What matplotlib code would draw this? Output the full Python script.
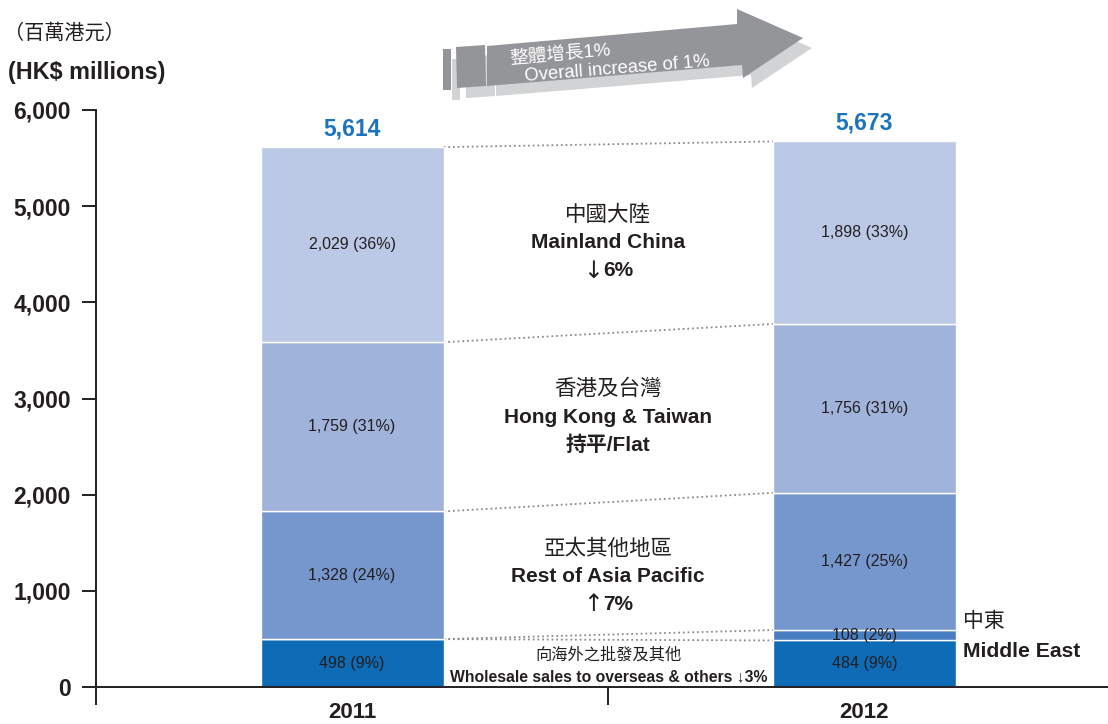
import matplotlib
matplotlib.use("Agg")
import matplotlib.pyplot as plt
from matplotlib.patches import Polygon
from matplotlib.font_manager import FontProperties
import numpy as np

plt.rcParams['font.family'] = ['Liberation Sans', 'Noto Sans CJK TC', 'DejaVu Sans']

# ---- data (HK$ millions) ----
years = ["2011", "2012"]
segments_zh = ["向海外之批發及其他", "中東", "亞太其他地區", "香港及台灣", "中國大陸"]
segments_en = ["Wholesale sales to overseas & others", "Middle East",
               "Rest of Asia Pacific", "Hong Kong & Taiwan", "Mainland China"]
wholesale = [498, 484]
middle_east = [0, 108]
rest_asia = [1328, 1427]
hk_taiwan = [1759, 1756]
mainland = [2029, 1898]
totals = [5614, 5673]
change_arrows = ["↓", None, "↑", "", "↓"]
change_texts = ["3%", None, "7%", "持平/Flat", "6%"]
overall_zh = "整體增長1%"
overall_en = "Overall increase of 1%"

series = [wholesale, middle_east, rest_asia, hk_taiwan, mainland]
colors = ["#0e6bb5", "#4a7ec2", "#7697cd", "#a0b3db", "#bcc9e6"]
ink = "#231f20"
blue_txt = "#1b74bd"

W, H = 1108, 724
fig = plt.figure(figsize=(W / 100, H / 100), dpi=100)
ax = fig.add_axes([96 / W, 1 - 687 / H, 1 - 96 / W, (687 - 110) / H])
renderer = fig.canvas.get_renderer()


def text_width_pt(s, **font):
    prop = FontProperties(**font)
    w, _, _ = renderer.get_text_width_height_descent(s, prop, ismath=False)
    return w * 72 / fig.dpi


x = np.arange(len(years))
bw = 0.357
bottom = np.zeros(len(years))
tops = []
for vals, col in zip(series, colors):
    vals = np.array(vals, dtype=float)
    ax.bar(x, vals, bw, bottom=bottom, color=col, edgecolor="white",
           linewidth=1.0, zorder=2)
    for i, v in enumerate(vals):
        if v > 0:
            pct = round(v / totals[i] * 100)
            ax.text(x[i], bottom[i] + v / 2, f"{int(v):,} ({pct}%)",
                    ha="center", va="center", fontsize=11.5, color=ink, zorder=3)
    bottom = bottom + vals
    tops.append(bottom.copy())

# totals above bars
for i, t in enumerate(totals):
    ax.annotate(f"{t:,}", (x[i], t), xytext=(0, 5), textcoords="offset points",
                ha="center", va="bottom", fontsize=16.5, fontweight="bold", color=blue_txt)

# dotted connectors between the stacks
for tp in tops:
    ax.plot([x[0] + bw / 2, x[1] - bw / 2], [tp[0], tp[1]], color="#8c8c8c",
            linestyle=(0, (1, 1.6)), linewidth=1.3, zorder=1)

# segment names and changes between the bars
seg_mid = []
prev = np.zeros(2)
for tp in tops:
    seg_mid.append((prev + tp) / 2)
    prev = tp

latin_bold = dict(family="Liberation Sans", weight="bold", size=15)
arrow_font = dict(family="DejaVu Sans", size=17)
group_shift = {4: -3, 3: 0, 2: -6}
for k in (4, 3, 2):
    yc = seg_mid[k].mean()
    dy = group_shift[k]
    ax.annotate(segments_zh[k], (0.5, yc), xytext=(0, dy + 20), textcoords="offset points",
                ha="center", va="center", fontsize=15.5, color=ink)
    ax.annotate(segments_en[k], (0.5, yc), xytext=(0, dy), textcoords="offset points",
                ha="center", va="center", fontsize=15, fontweight="bold", color=ink)
    arr, rest = change_arrows[k], change_texts[k]
    if arr:
        wa = text_width_pt(arr, **arrow_font)
        wr = text_width_pt(rest, **latin_bold)
        gap = 0.5
        left = -(wa + gap + wr) / 2
        ax.annotate(arr, (0.5, yc), xytext=(left, dy - 20), textcoords="offset points",
                    ha="left", va="center", color=ink, fontfamily="DejaVu Sans", fontsize=17)
        ax.annotate(rest, (0.5, yc), xytext=(left + wa + gap, dy - 20),
                    textcoords="offset points", ha="left", va="center", color=ink,
                    fontsize=15, fontweight="bold")
    else:
        ax.annotate(rest, (0.5, yc), xytext=(0, dy - 20), textcoords="offset points",
                    ha="center", va="center", fontsize=15, fontweight="bold", color=ink)

yc = seg_mid[0].mean()
ax.annotate(segments_zh[0], (0.5, yc), xytext=(0, 6), textcoords="offset points",
            ha="center", va="center", fontsize=11.7, color=ink)
ax.annotate(f"{segments_en[0]} {change_arrows[0]}{change_texts[0]}", (0.5, yc),
            xytext=(0, -9.5), textcoords="offset points", ha="center", va="center",
            fontsize=11.3, fontweight="bold", color=ink)

# Middle East label at right of 2012 stack
yme = seg_mid[1][1]
ax.annotate(segments_zh[1], (x[1] + bw / 2, yme), xytext=(5, 10), textcoords="offset points",
            ha="left", va="center", fontsize=15, color=ink)
ax.annotate(segments_en[1], (x[1] + bw / 2, yme), xytext=(5, -11.5), textcoords="offset points",
            ha="left", va="center", fontsize=15.2, fontweight="bold", color=ink)

# axes styling
ax.set_xlim(-0.5, (W - 351) / 513)
ax.set_ylim(0, 6000)
ax.set_yticks(np.arange(0, 6001, 1000))
ax.set_yticklabels([f"{v:,}" for v in range(0, 6001, 1000)], fontsize=16.5,
                   fontweight="bold", color=ink)
ax.set_xticks(x)
ax.set_xticklabels(years, fontsize=16, fontweight="bold", color=ink)
ax.set_xticks([-0.5, 0.5], minor=True)
ax.tick_params(axis="x", which="major", length=0, pad=11)
ax.tick_params(axis="x", which="minor", length=13, width=1.4, color=ink, direction="out")
ax.tick_params(axis="y", length=10, width=1.4, color=ink, pad=8)
for s in ("top", "right"):
    ax.spines[s].set_visible(False)
for s in ("left", "bottom"):
    ax.spines[s].set_color(ink)
    ax.spines[s].set_linewidth(1.4)

# unit labels
fig.text(4 / W, 1 - 33 / H, "（百萬港元）", ha="left", va="center", fontsize=14.5, color=ink)
fig.text(8 / W, 1 - 72 / H, "(HK$ millions)", ha="left", va="center", fontsize=16.8,
         fontweight="bold", color=ink)


# overall growth arrow (figure pixel coordinates)
def px(pts, dx=0, dy=0):
    return [((px_ + dx) / W, 1 - (py_ + dy) / H) for px_, py_ in pts]


arrow_body = [(487, 46), (737, 24), (737, 9), (803, 38), (743, 78), (742, 65), (487, 86)]
strip_a = [(443, 49), (451, 49), (451, 90), (443, 90)]
strip_b = [(456, 47), (485, 45), (486, 86), (457, 88)]
for shape in (arrow_body, strip_a, strip_b):
    fig.patches.append(Polygon(px(shape, 9, 10), closed=True, facecolor="#d1d3d4",
                               edgecolor="none", transform=fig.transFigure, zorder=1))
for shape in (arrow_body, strip_a, strip_b):
    fig.patches.append(Polygon(px(shape), closed=True, facecolor="#939598",
                               edgecolor="none", transform=fig.transFigure, zorder=2))
fig.text(510 / W, 1 - 64 / H, overall_zh, ha="left", va="baseline", rotation=5,
         rotation_mode="anchor", fontsize=13.4, color="white", zorder=3)
fig.text(525 / W, 1 - 81 / H, overall_en, ha="left", va="baseline", rotation=4.6,
         rotation_mode="anchor", fontsize=13.3, color="white", zorder=3)

fig.savefig("out.png", dpi=100)
